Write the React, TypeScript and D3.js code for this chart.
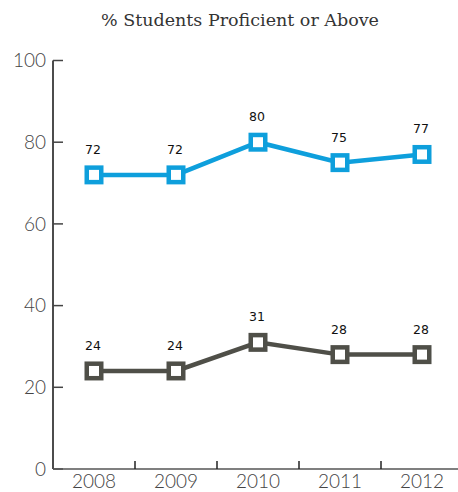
import React from "react";
import * as d3 from "d3";

const years = ["2008", "2009", "2010", "2011", "2012"];
const seriesTop = [72, 72, 80, 75, 77];
const seriesBottom = [24, 24, 31, 28, 28];
const yTicks = [0, 20, 40, 60, 80, 100];
const title = "% Students Proficient or Above";

const W = 458;
const H = 492;

export default function App() {
  const x = d3.scaleBand<string>().domain(years).range([53, 463]).padding(0);
  const y = d3.scaleLinear().domain([0, 100]).range([469, 60.5]);
  const cx = (d: string) => (x(d) as number) + x.bandwidth() / 2;

  const line = d3
    .line<number>()
    .x((_, i) => cx(years[i]))
    .y((v) => y(v));

  const series = [
    { values: seriesTop, color: "#0e9fdc" },
    { values: seriesBottom, color: "#4f4f48" },
  ];

  const boundaries = years.slice(1).map((yr) => x(yr) as number);

  return (
    <svg
      width={W}
      height={H}
      style={{ position: "absolute", left: 0, top: 0, background: "#fff" }}
    >
      <text
        x={240}
        y={26}
        textAnchor="middle"
        fontFamily="DejaVu Serif"
        fontSize={17.5}
        fill="#333"
      >
        {title}
      </text>

      {/* y axis */}
      <line x1={53} x2={53} y1={y(100)} y2={y(0)} stroke="#111" strokeWidth={1.5} />
      {yTicks.map((t) => (
        <g key={t}>
          <line x1={53} x2={63} y1={y(t)} y2={y(t)} stroke="#444" strokeWidth={1.5} />
          <text
            x={46}
            y={y(t)}
            dy="0.36em"
            textAnchor="end"
            fontFamily="Lato"
            fontWeight={300}
            fontSize={19}
            fill="#444"
          >
            {t}
          </text>
        </g>
      ))}

      {/* x axis */}
      <line x1={53} x2={458} y1={y(0)} y2={y(0)} stroke="#555" strokeWidth={1.5} />
      {boundaries.map((b, i) => (
        <line key={i} x1={b} x2={b} y1={y(0)} y2={y(0) - 8} stroke="#222" strokeWidth={1.5} />
      ))}
      {years.map((yr) => (
        <text
          key={yr}
          x={cx(yr)}
          y={488}
          textAnchor="middle"
          fontFamily="Lato"
          fontWeight={300}
          fontSize={19}
          fill="#444"
        >
          {yr}
        </text>
      ))}

      {series.map((s, si) => (
        <g key={si}>
          <path d={line(s.values) || ""} fill="none" stroke={s.color} strokeWidth={4.5} />
          {s.values.map((v, i) => (
            <g key={i}>
              <rect
                x={cx(years[i]) - 7.25}
                y={y(v) - 7.25}
                width={14.5}
                height={14.5}
                fill="#fff"
                stroke={s.color}
                strokeWidth={4.5}
              />
              <text
                x={cx(years[i]) - 1}
                y={y(v) - 21}
                textAnchor="middle"
                fontFamily="DejaVu Sans"
                fontSize={12.5}
                fill="#111"
              >
                {v}
              </text>
            </g>
          ))}
        </g>
      ))}
    </svg>
  );
}
